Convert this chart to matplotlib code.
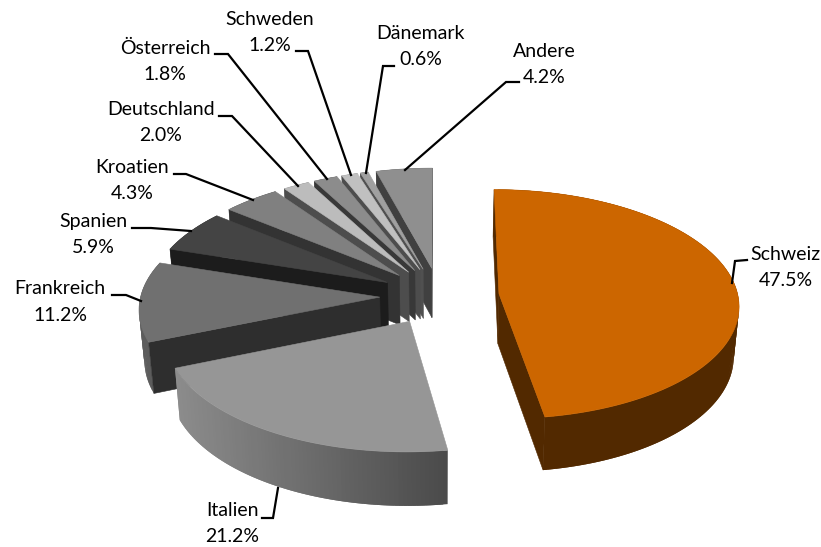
import numpy as np
import matplotlib
matplotlib.use("Agg")
import matplotlib.pyplot as plt
from matplotlib.collections import PolyCollection
from matplotlib.colors import to_rgb

countries = ["Schweiz", "Italien", "Frankreich", "Spanien", "Kroatien",
             "Deutschland", "Österreich", "Schweden", "Dänemark", "Andere"]
shares = [47.5, 21.2, 11.2, 5.9, 4.3, 2.0, 1.8, 1.2, 0.6, 4.2]
top_colors = ["#CC6600", "#969696", "#707070", "#444444", "#808080",
              "#BCBCBC", "#8C8C8C", "#C0C0C0", "#A0A0A0", "#8F8F8F"]
wall_colors = ["#522900", "#4D4D4D", "#2E2E2E", "#1C1C1C", "#333333",
               "#4D4D4D", "#383838", "#4D4D4D", "#505050", "#404040"]
rim_left = ["#663300", "#8C8C8C", "#5C5C5C", "#222222", "#404040",
            "#5A5A5A", "#464646", "#5F5F5F", "#505050", "#474747"]
rim_right = ["#522900", "#4A4A4A", "#5C5C5C", "#222222", "#404040",
             "#5A5A5A", "#464646", "#5F5F5F", "#505050", "#474747"]

label_pos = [(785.5, 267.5), (232, 523.5), (60, 302), (93, 234.5), (132, 180.5),
             (161, 122.5), (165, 61.5), (270, 32.5), (421, 46.5), (544, 64.5)]
leaders = [
    [(747, 260), (735, 261), (732, 283)],
    [(262, 518), (273, 518), (278, 488)],
    [(112, 295), (126, 295), (141, 301)],
    [(132, 228), (151, 228), (191, 231)],
    [(174, 174), (186, 174), (253, 200)],
    [(219, 116), (232, 116), (298, 186)],
    [(215, 54), (228, 54), (327, 179)],
    [(296, 51), (308, 51), (351, 175)],
    [(394, 66), (383, 66), (366, 173)],
    [(519, 82), (506, 82), (405, 170)],
]

CX, CY, RX, RY, K, EXPLODE, DEPTH = 439.5, 296, 239, 114, 0.09, 0.25, 50


def project(X, Y):
    d = 1 + K * Y
    return CX + RX * X / d, CY - RY * Y / d


def drop(x, y, Y):
    return CX + (x - CX) * 0.982, y + DEPTH / (1 + 0.06 * Y)


def mix(a, b, t):
    a, b = np.array(to_rgb(a)), np.array(to_rgb(b))
    return tuple(a + (b - a) * t)


fig = plt.figure(figsize=(8.21, 5.47), dpi=100)
ax = fig.add_axes([0, 0, 1, 1])
ax.set_xlim(0, 821)
ax.set_ylim(547, 0)
ax.axis("off")

edges = np.concatenate([[0], np.cumsum(shares)]) / sum(shares) * 2 * np.pi

for i in range(len(shares) - 1, -1, -1):
    a0, a1 = edges[i], edges[i + 1]
    mid = (a0 + a1) / 2
    ox, oy = EXPLODE * np.sin(mid), EXPLODE * np.cos(mid)
    t = np.linspace(a0, a1, max(int((a1 - a0) * 60), 6))
    Xr, Yr = ox + np.sin(t), oy + np.cos(t)
    xr, yr = project(Xr, Yr)
    xa, ya = project(ox, oy)
    xb, yb = drop(xr, yr, Yr)
    xab, yab = drop(xa, ya, oy)

    # Overlapping strips, painted in order, so no seams show through the gradient.
    polys, cols = [], []
    span = max(xr.max() - xr.min(), 1)
    order = np.argsort(-xr[:-1]) if i == 0 else np.arange(len(t) - 1)
    for k in order:
        m = min(k + 2, len(t) - 1)
        polys.append([(xr[k], yr[k]), (xr[m], yr[m]), (xb[m], yb[m]), (xb[k], yb[k])])
        f = ((xr[k] + xr[k + 1]) / 2 - xr.min()) / span
        if i == 0:
            f = min(f * 12, 1)
        cols.append(mix(rim_left[i], rim_right[i], f))
    ax.add_collection(PolyCollection(polys, facecolors=cols, edgecolors="none",
                                     linewidths=0, zorder=i * -10))

    # A radial cut face shows only when the slice's top lies above that edge.
    xm, ym = xr[len(t) // 2], yr[len(t) // 2]
    for j in (-1, 0):
        dx = xr[j] - xa
        if abs(dx) < 1e-6:
            continue
        if ym < ya + (xm - xa) * (yr[j] - ya) / dx:
            ax.fill([xa, xr[j], xb[j], xab], [ya, yr[j], yb[j], yab],
                    color=wall_colors[i], lw=0.4, zorder=i * -10 + 1)

    ax.fill(np.r_[xa, xr], np.r_[ya, yr], color=top_colors[i], lw=0.4,
            zorder=i * -10 + 2)

for name, share, pos, line in zip(countries, shares, label_pos, leaders):
    xs, ys = zip(*line)
    ax.plot(xs, ys, color="black", lw=1.6, solid_joinstyle="miter", zorder=5)
    ax.text(pos[0], pos[1], f"{name}\n{share:.1f}%", ha="center", va="center",
            family="Lato", fontsize=14, linespacing=1.65, color="black", zorder=6)

fig.savefig("out.png", dpi=100)
